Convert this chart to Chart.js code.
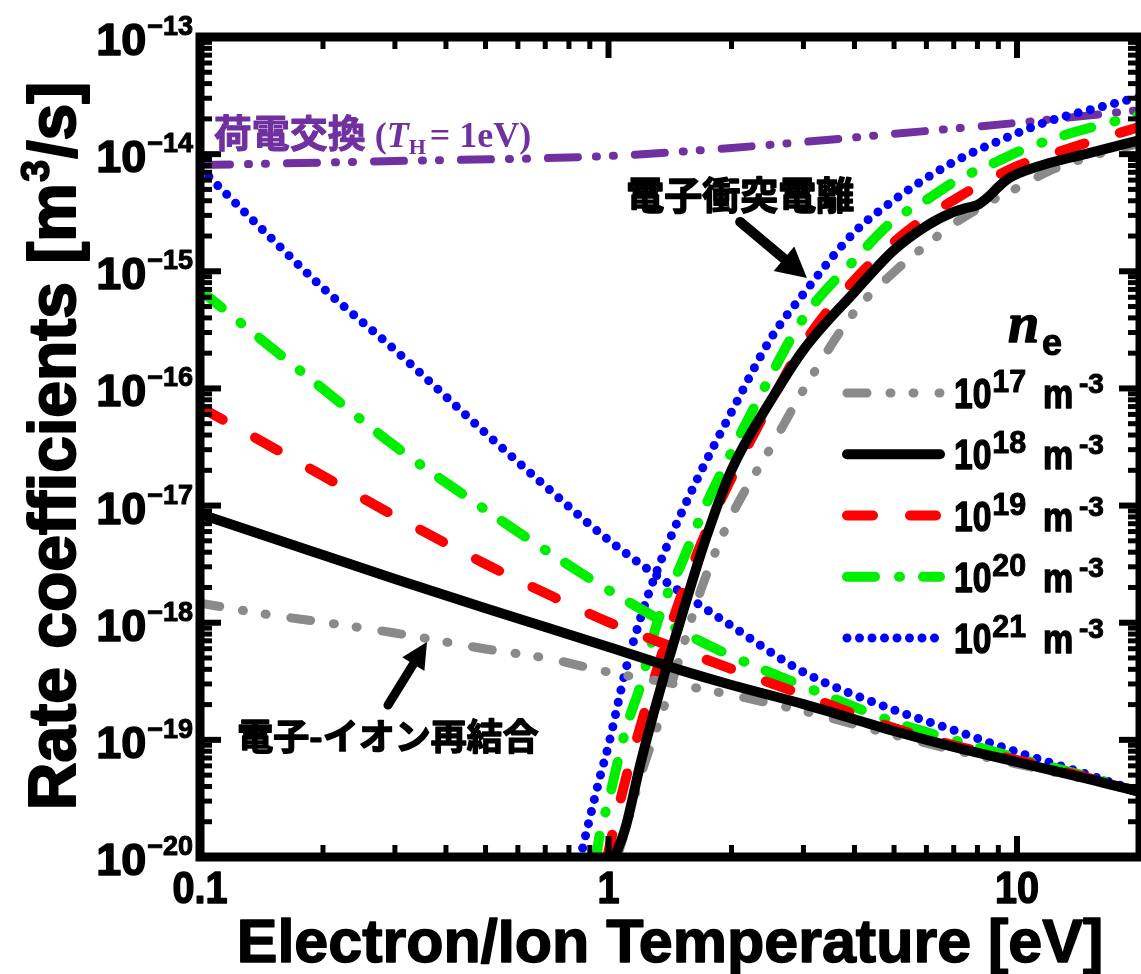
<!DOCTYPE html>
<html>
<head>
<meta charset="utf-8">
<script src="https://cdn.jsdelivr.net/npm/chart.js@4.4.0/dist/chart.umd.min.js"></script>
<style>
  html, body { margin: 0; padding: 0; background: #fff; }
  #wrap { width: 1141px; height: 974px; }
</style>
</head>
<body>
<div id="wrap"><canvas id="rates" width="1141" height="974"></canvas></div>
<script>
// ---- data: rate coefficients [m^3/s] vs temperature [eV] ----

// recombination branch, common temperature grid
const tRecomb = [0.1, 0.15, 0.2, 0.3, 0.5, 0.7, 1, 1.5, 2, 3, 5, 7, 10, 15, 20];
const recomb17 = [1.47e-18, 1.16e-18, 1.01e-18, 8.17e-19, 5.97e-19, 5.0e-19, 3.79e-19, 2.94e-19, 2.42e-19, 1.76e-19, 1.10e-19, 8.19e-20, 6.22e-20, 4.54e-20, 3.59e-20];
const recomb18 = [8.47e-18, 5.28e-18, 3.78e-18, 2.36e-18, 1.33e-18, 9.2e-19, 6.2e-19, 3.94e-19, 2.94e-19, 2.02e-19, 1.19e-19, 8.69e-20, 6.47e-20, 4.63e-20, 3.59e-20];
const recomb19 = [6.94e-17, 3.16e-17, 1.79e-17, 8.15e-18, 3.17e-18, 1.79e-18, 1.01e-18, 5.85e-19, 4.03e-19, 2.42e-19, 1.26e-19, 9.0e-20, 6.73e-20, 4.72e-20, 3.59e-20];
const recomb20 = [6.92e-16, 2.21e-16, 9.9e-17, 3.22e-17, 9.2e-18, 4.18e-18, 1.90e-18, 8.5e-19, 5.2e-19, 2.88e-19, 1.42e-19, 9.97e-20, 7.0e-20, 4.82e-20, 3.59e-20];
const recomb21 = [7.62e-15, 1.89e-15, 7.2e-16, 2.13e-16, 4.16e-17, 1.47e-17, 5.08e-18, 1.83e-18, 9.4e-19, 3.79e-19, 1.80e-19, 1.21e-19, 7.87e-20, 5.01e-20, 3.59e-20];

// electron impact ionization branch
const tIon17 = [1.05, 1.1, 1.2, 1.3, 1.4, 1.5, 1.7, 2, 2.5, 3, 4, 5, 6, 7, 8, 9, 10, 12, 15, 20];
const ion17 = [1.0e-20, 1.70e-20, 5.01e-20, 1.14e-19, 2.46e-19, 5.30e-19, 2.10e-18, 8.15e-18, 3.16e-17, 9.7e-17, 4.49e-16, 9.86e-16, 1.68e-15, 2.54e-15, 3.40e-15, 4.31e-15, 5.14e-15, 7.18e-15, 9.46e-15, 1.24e-14];
const tIon18 = [1.03, 1.1, 1.2, 1.3, 1.4, 1.5, 1.7, 2, 2.5, 3, 4, 5, 6, 7, 7.5, 8, 8.5, 9, 9.5, 10, 12, 15, 20];
const ion18 = [9.5e-21, 1.77e-20, 6.47e-20, 1.87e-19, 4.71e-19, 1.05e-18, 4.34e-18, 2.01e-17, 7.96e-17, 2.13e-16, 6.65e-16, 1.52e-15, 2.44e-15, 3.21e-15, 3.47e-15, 3.68e-15, 4.31e-15, 5.24e-15, 6.14e-15, 6.77e-15, 8.4e-15, 1.02e-14, 1.32e-14];
const tIon19 = [0.99, 1.0, 1.1, 1.2, 1.3, 1.4, 1.5, 1.7, 2, 2.5, 3, 4, 5, 6, 7, 8, 9, 10, 12, 15, 20];
const ion19 = [9.4e-21, 1.12e-20, 4.54e-20, 1.34e-19, 3.51e-19, 8.01e-19, 1.63e-18, 5.08e-18, 1.72e-17, 7.66e-17, 2.39e-16, 8.43e-16, 1.78e-15, 2.90e-15, 4.06e-15, 5.35e-15, 6.64e-15, 7.92e-15, 9.84e-15, 1.27e-14, 1.71e-14];
const tIon20 = [0.93, 0.95, 1, 1.1, 1.2, 1.3, 1.4, 1.5, 1.7, 2, 2.5, 3, 4, 5, 6, 7, 8, 9, 10, 12, 15, 20];
const ion20 = [8.8e-21, 1.5e-20, 3.0e-20, 1.2e-19, 3.0e-19, 8.67e-19, 1.83e-18, 3.05e-18, 8.81e-18, 2.86e-17, 1.30e-16, 3.99e-16, 1.25e-15, 2.74e-15, 4.06e-15, 5.78e-15, 7.32e-15, 8.73e-15, 1.04e-14, 1.32e-14, 1.67e-14, 2.16e-14];
const tIon21 = [0.85, 0.9, 0.95, 1, 1.1, 1.2, 1.3, 1.4, 1.5, 1.7, 2, 2.5, 3, 4, 5, 6, 7, 8, 9, 10, 12, 15, 20];
const ion21 = [9.4e-21, 2.15e-20, 4.63e-20, 9.0e-20, 3.87e-19, 1.12e-18, 2.51e-18, 4.79e-18, 8.3e-18, 2.09e-17, 6.29e-17, 2.69e-16, 6.4e-16, 2.16e-15, 4.06e-15, 6.25e-15, 8.57e-15, 1.08e-14, 1.29e-14, 1.51e-14, 1.92e-14, 2.38e-14, 3.08e-14];

// charge exchange (T_H = 1 eV)
const tCx = [0.1, 0.3, 1, 2, 3, 5, 10, 20];
const chargeEx = [8.07e-15, 8.73e-15, 9.64e-15, 1.13e-14, 1.27e-14, 1.49e-14, 1.85e-14, 2.38e-14];

// axes
const xMajor = [0.1, 1, 10];
const xMajorLabels = ['0.1', '1', '10'];
const yExponents = [-13, -14, -15, -16, -17, -18, -19, -20];

// legend entries (density exponent of n_e)
const densityExps = [17, 18, 19, 20, 21];

// ---- styles ----
const SANS = "'Liberation Sans', Arial, sans-serif";
const SERIF = "'Liberation Serif', 'Times New Roman', serif";
const CJK = "'Noto Sans CJK JP', sans-serif";
const PURPLE = '#7030a0';

const lineStyles = {
  17: { color: '#8a8a8a', width: 9, dash: [20, 23, 1, 22, 1, 25] },
  18: { color: '#000000', width: 10, dash: [] },
  19: { color: '#ff0000', width: 10, dash: [26, 37] },
  20: { color: '#00ee00', width: 10, dash: [28, 24, 1, 23] },
  21: { color: '#0000ff', width: 9, dash: [0, 12.5] }
};

function pts(t, k) {
  return t.map((v, i) => ({ x: v, y: k[i] }));
}

function curve(label, t, k, st) {
  return {
    label: label,
    data: pts(t, k),
    borderColor: st.color,
    borderWidth: st.width,
    borderDash: st.dash,
    borderCapStyle: 'round',
    borderJoinStyle: 'round',
    pointRadius: 0,
    fill: false,
    cubicInterpolationMode: 'monotone',
    clip: 0
  };
}

const recombSets = { 17: recomb17, 18: recomb18, 19: recomb19, 20: recomb20, 21: recomb21 };
const ionT = { 17: tIon17, 18: tIon18, 19: tIon19, 20: tIon20, 21: tIon21 };
const ionK = { 17: ion17, 18: ion18, 19: ion19, 20: ion20, 21: ion21 };

// first dataset is drawn on top
const drawOrder = [18, 17, 19, 20, 21];
const datasets = [];
drawOrder.forEach(e => {
  datasets.push(curve('ion 1e' + e, ionT[e], ionK[e], lineStyles[e]));
  datasets.push(curve('recomb 1e' + e, tRecomb, recombSets[e], lineStyles[e]));
});
datasets.push(curve('charge exchange', tCx, chargeEx, { color: PURPLE, width: 8, dash: [30, 18, 1, 16, 1, 21] }));

// ---- drawing helpers ----
function txt(ctx, str, x, y, font, o) {
  o = o || {};
  ctx.save();
  ctx.font = font;
  ctx.fillStyle = o.color || '#000';
  ctx.strokeStyle = o.color || '#000';
  ctx.textAlign = o.align || 'left';
  ctx.textBaseline = 'alphabetic';
  const sx = o.sx || 1;
  ctx.translate(x, y);
  ctx.scale(sx, 1);
  ctx.fillText(str, 0, 0);
  if (o.stroke) {
    ctx.lineWidth = o.stroke;
    ctx.lineJoin = 'round';
    ctx.strokeText(str, 0, 0);
  }
  const w = ctx.measureText(str).width * sx;
  ctx.restore();
  return w;
}

function arrow(ctx, x0, y0, x1, y1, head, half, lw) {
  const a = Math.atan2(y1 - y0, x1 - x0);
  const bx = x1 - head * Math.cos(a), by = y1 - head * Math.sin(a);
  ctx.save();
  ctx.strokeStyle = '#000';
  ctx.fillStyle = '#000';
  ctx.lineWidth = lw;
  ctx.lineCap = 'round';
  ctx.beginPath();
  ctx.moveTo(x0, y0);
  ctx.lineTo(bx, by);
  ctx.stroke();
  ctx.beginPath();
  ctx.moveTo(x1, y1);
  ctx.lineTo(bx + half * Math.sin(a), by - half * Math.cos(a));
  ctx.lineTo(bx - half * Math.sin(a), by + half * Math.cos(a));
  ctx.closePath();
  ctx.fill();
  ctx.restore();
}

// frame, inward ticks, tick labels, titles, legend and annotations
const decorations = {
  id: 'decorations',
  afterDatasetsDraw(chart) {
    const { ctx, chartArea: a, scales: { x, y } } = chart;
    ctx.save();

    // frame
    ctx.strokeStyle = '#000';
    ctx.lineWidth = 9;
    ctx.strokeRect(a.left, a.top, a.right - a.left, a.bottom - a.top);

    // ticks on all four sides
    ctx.lineCap = 'butt';
    const tick = (x0, y0, x1, y1, w) => {
      ctx.lineWidth = w;
      ctx.beginPath(); ctx.moveTo(x0, y0); ctx.lineTo(x1, y1); ctx.stroke();
    };
    for (let d = -1; d <= 1; d++) {
      for (let m = 1; m <= 9; m++) {
        const v = m * Math.pow(10, d);
        if (v <= x.min || v >= x.max) continue;
        const px = x.getPixelForValue(v);
        const len = m === 1 ? 21 : 12;
        tick(px, a.bottom, px, a.bottom - len, m === 1 ? 6 : 5);
        tick(px, a.top, px, a.top + len, m === 1 ? 6 : 5);
      }
    }
    for (let d = -20; d <= -14; d++) {
      for (let m = 1; m <= 9; m++) {
        const v = m * Math.pow(10, d);
        if (v <= y.min * 1.0001 || v >= y.max * 0.9999) continue;
        const py = y.getPixelForValue(v);
        const len = m === 1 ? 21 : 12;
        tick(a.left, py, a.left + len, py, m === 1 ? 6 : 5);
        tick(a.right, py, a.right - len, py, m === 1 ? 6 : 5);
      }
    }

    // y tick labels 10^-n
    yExponents.forEach(e => {
      const py = y.getPixelForValue(Math.pow(10, e));
      const right = a.left - 7;
      ctx.font = 'bold 27px ' + SANS;
      const expStr = '\u2212' + Math.abs(e);
      const ew = ctx.measureText(expStr).width;
      txt(ctx, expStr, right, py - 2, 'bold 27px ' + SANS, { align: 'right', stroke: 1 });
      txt(ctx, '10', right - ew - 1, py + 18, 'bold 45px ' + SANS, { align: 'right', stroke: 1.5 });
    });

    // x tick labels
    xMajor.forEach((v, i) => {
      const px = x.getPixelForValue(v);
      txt(ctx, xMajorLabels[i], px, a.bottom + 46, 'bold 44px ' + SANS, { align: 'center', stroke: 1.5, sx: 0.9 });
    });

    // axis titles
    txt(ctx, 'Electron/Ion Temperature [eV]', (a.left + a.right) / 2, 962, 'bold 61px ' + SANS, { align: 'center', stroke: 1.5 });

    ctx.save();
    ctx.translate(75, (a.top + a.bottom) / 2);
    ctx.rotate(-Math.PI / 2);
    const f1 = 'bold 66px ' + SANS, f2 = 'bold 40px ' + SANS;
    ctx.font = f1;
    const p1 = 'Rate coefficients [m', p3 = '/s]';
    const w1 = ctx.measureText(p1).width, w3 = ctx.measureText(p3).width;
    ctx.font = f2;
    const w2 = ctx.measureText('3').width;
    let sx0 = -(w1 + w2 + w3) / 2;
    txt(ctx, p1, sx0, 0, f1, { stroke: 2 });
    txt(ctx, '3', sx0 + w1 + 1, -26, f2, { stroke: 1.5 });
    txt(ctx, p3, sx0 + w1 + w2 + 2, 0, f1, { stroke: 2 });
    ctx.restore();

    // legend
    const lx = a.right - 293, rowTop = a.top + 356, rowGap = 61.25;
    txt(ctx, 'n', lx + 161, a.top + 305, 'bold italic 56px ' + SERIF, { stroke: 1.5 });
    txt(ctx, 'e', lx + 195, a.top + 318, 'bold 36px ' + SANS, { stroke: 1 });
    densityExps.forEach((e, i) => {
      const st = lineStyles[e];
      const ry = rowTop + i * rowGap;
      ctx.save();
      ctx.strokeStyle = st.color;
      ctx.lineWidth = st.width;
      ctx.lineCap = 'round';
      ctx.setLineDash(st.dash);
      ctx.beginPath();
      ctx.moveTo(lx, ry);
      ctx.lineTo(lx + 93, ry);
      ctx.stroke();
      ctx.restore();
      let tx = lx + 107;
      tx += txt(ctx, '10', tx, ry + 15, 'bold 42px ' + SANS, { sx: 0.8, stroke: 1.5 });
      txt(ctx, String(e), tx + 1, ry - 1, 'bold 32px ' + SANS, { sx: 0.95, stroke: 1 });
      txt(ctx, 'm', lx + 196, ry + 15, 'bold 40px ' + SANS, { sx: 0.85, stroke: 1.5 });
      txt(ctx, '-3', lx + 232, ry, 'bold 28px ' + SANS, { stroke: 1 });
    });

    // charge exchange label
    let cx = x.getPixelForValue(0.108);
    const cy = y.getPixelForValue(1.15e-14);
    cx += txt(ctx, '荷電交換', cx, cy, 'bold 38px ' + CJK, { color: PURPLE, stroke: 1 });
    cx += 9;
    cx += txt(ctx, '(', cx, cy, 'bold 36px ' + SERIF, { color: PURPLE });
    cx += txt(ctx, 'T', cx, cy, 'bold italic 36px ' + SERIF, { color: PURPLE });
    cx += txt(ctx, 'H', cx, cy + 7, 'bold 22px ' + SERIF, { color: PURPLE });
    cx += 4;
    txt(ctx, '= 1eV)', cx, cy, 'bold 36px ' + SERIF, { color: PURPLE });

    // ionization annotation
    txt(ctx, '電子衝突電離', x.getPixelForValue(2.1), y.getPixelForValue(3.4e-15), 'bold 38px ' + CJK, { align: 'center', stroke: 1.5 });
    arrow(ctx, x.getPixelForValue(2.1), y.getPixelForValue(2.64e-15),
      x.getPixelForValue(3.06), y.getPixelForValue(8.77e-16), 30, 16, 10);

    // recombination annotation
    txt(ctx, '電子-イオン再結合', x.getPixelForValue(0.2885), y.getPixelForValue(8.19e-20), 'bold 36px ' + CJK, { align: 'center', stroke: 1.5 });
    arrow(ctx, x.getPixelForValue(0.2885), y.getPixelForValue(1.98e-19),
      x.getPixelForValue(0.3595), y.getPixelForValue(6.84e-19), 26, 13, 9);

    ctx.restore();
  }
};

new Chart(document.getElementById('rates'), {
  type: 'line',
  data: { datasets: datasets },
  options: {
    responsive: false,
    animation: false,
    devicePixelRatio: 1,
    layout: { padding: { top: 37, right: 1, left: 0, bottom: 0 } },
    scales: {
      x: {
        type: 'logarithmic',
        min: 0.1,
        max: 20,
        ticks: { display: false },
        grid: { display: false },
        border: { display: false },
        afterFit: s => { s.height = 117; }
      },
      y: {
        type: 'logarithmic',
        min: 1e-20,
        max: 1e-13,
        ticks: { display: false },
        grid: { display: false },
        border: { display: false },
        afterFit: s => { s.width = 200; }
      }
    },
    plugins: {
      legend: { display: false },
      tooltip: { enabled: false }
    }
  },
  plugins: [decorations]
});
</script>
</body>
</html>
